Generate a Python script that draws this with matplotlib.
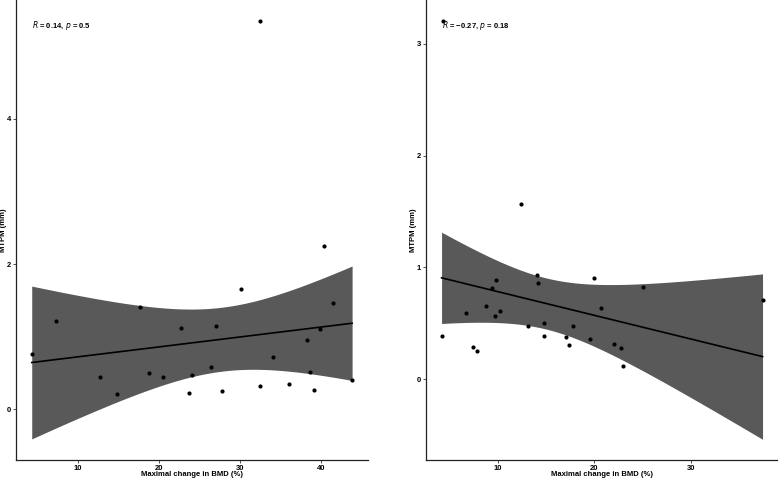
import numpy as np
import matplotlib.pyplot as plt

plt.rcParams['font.family'] = ['Liberation Sans', 'DejaVu Sans']

# Left panel data: maximal change in BMD (%) vs MTPM (mm)
left_x = [4.3, 7.3, 12.7, 14.8, 17.6, 18.8, 20.5, 22.7, 24.0, 23.7, 26.4, 27.0,
          27.8, 30.1, 32.5, 32.4, 34.1, 36.0, 38.2, 38.6, 39.1, 39.9, 40.3, 41.4, 43.8]
left_y = [0.76, 1.22, 0.45, 0.21, 1.41, 0.50, 0.44, 1.12, 0.47, 0.23, 0.58, 1.14,
          0.25, 1.65, 0.32, 5.35, 0.72, 0.35, 0.96, 0.51, 0.26, 1.11, 2.25, 1.47, 0.40]

# Right panel data
right_x = [4.2, 4.4, 6.7, 7.45, 7.9, 8.8, 9.4, 9.8, 9.7, 10.2, 12.4, 13.1, 14.1, 14.2,
           14.75, 14.8, 17.1, 17.35, 17.75, 19.55, 20.0, 20.65, 22.0, 22.8, 23.0, 25.0, 37.4]
right_y = [0.39, 3.20, 0.59, 0.29, 0.25, 0.66, 0.82, 0.89, 0.57, 0.61, 1.57, 0.48, 0.93, 0.86,
           0.50, 0.39, 0.38, 0.31, 0.48, 0.36, 0.91, 0.64, 0.315, 0.28, 0.12, 0.83, 0.71]

left_r, left_p = "0.14", "0.5"
right_r, right_p = "\u22120.27", "0.18"

# t quantiles (0.975) for the residual degrees of freedom
t975 = {23: 2.0687, 25: 2.0595}


def draw_panel(ax, x, y, r_txt, p_txt, xlim, ylim, yticks, xticks):
    x = np.asarray(x)
    y = np.asarray(y)
    n = len(x)
    b, a = np.polyfit(x, y, 1)
    xs = np.linspace(x.min(), x.max(), 80)
    fit = a + b * xs
    resid = y - (a + b * x)
    s = np.sqrt(np.sum(resid**2) / (n - 2))
    se = s * np.sqrt(1.0 / n + (xs - x.mean())**2 / np.sum((x - x.mean())**2))
    t = t975[n - 2]
    ax.fill_between(xs, fit - t * se, fit + t * se, color='#595959', lw=0, zorder=1)
    ax.plot(xs, fit, color='black', lw=1.2, zorder=2)
    ax.scatter(x, y, s=9, color='black', zorder=3, linewidths=0)

    ax.set_xlim(*xlim)
    ax.set_ylim(*ylim)
    ax.set_xticks(xticks)
    ax.set_yticks(yticks)
    for sp in ['top', 'right']:
        ax.spines[sp].set_visible(False)
    for sp in ['left', 'bottom']:
        ax.spines[sp].set_linewidth(0.9)
        ax.spines[sp].set_color('#222222')
    ax.tick_params(length=2.5, width=0.6, color='#333333', labelsize=5.5, pad=1)
    for lab in ax.get_xticklabels() + ax.get_yticklabels():
        lab.set_fontweight('bold')
    ax.set_xlabel('Maximal change in BMD (%)', fontsize=5.5, fontweight='bold')
    ax.set_ylabel('MTPM (mm)', fontsize=5.5, fontweight='bold')
    ax.xaxis.set_label_coords(0.5, -0.0305)
    ax.xaxis.label.set_va('center')
    ax.yaxis.set_label_coords(-0.035, 0.5)
    ax.yaxis.label.set_va('center')
    ax.text(0.045, 0.944, '$\\it{R}$ = ' + r_txt + ', $\\it{p}$ = ' + p_txt,
            transform=ax.transAxes, fontsize=5.5, fontweight='bold',
            va='center', ha='left')


fig = plt.figure(figsize=(7.78, 4.79), dpi=100)
ax1 = fig.add_axes([16 / 778, 19 / 479, 352 / 778, 460 / 479])
ax2 = fig.add_axes([426 / 778, 19 / 479, 352 / 778, 460 / 479])

draw_panel(ax1, left_x, left_y, left_r, left_p, (2.36, 45.76), (-0.70, 5.64),
           [0, 2, 4], [10, 20, 30, 40])
draw_panel(ax2, right_x, right_y, right_r, right_p, (2.59, 39.0), (-0.72, 3.39),
           [0, 1, 2, 3], [10, 20, 30])

fig.savefig('out.png', dpi=100)
